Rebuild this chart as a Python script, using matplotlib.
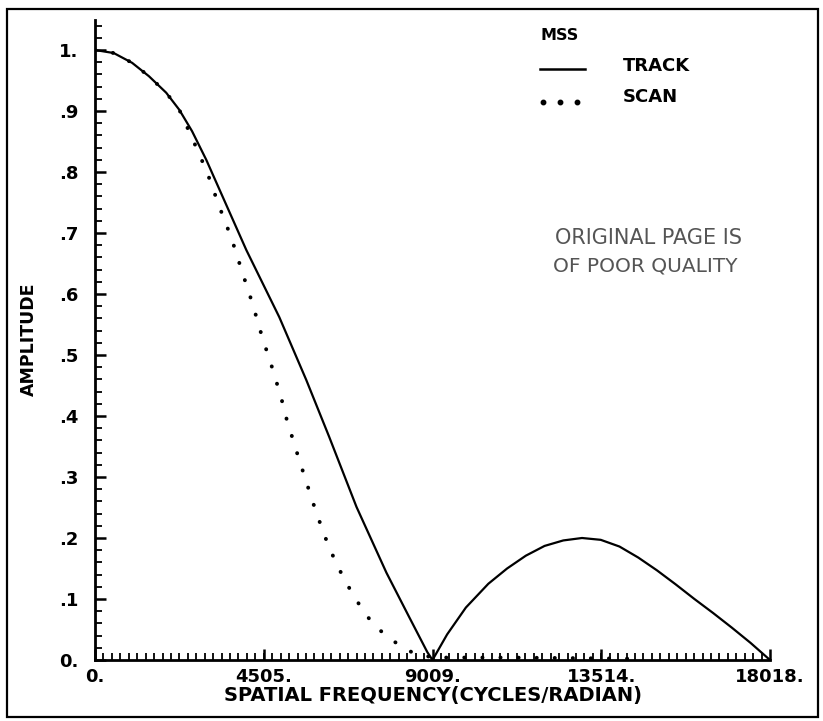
import matplotlib.pyplot as plt
from matplotlib.lines import Line2D
from matplotlib.patches import Rectangle
from matplotlib.ticker import FixedLocator, MultipleLocator

# values (cycles/radian vs amplitude)
track_freq = [0, 500, 990, 1440, 1900, 2250, 2590, 2970, 4040, 4920, 5640,
              6250, 6980, 7780, 8390, 8870, 9009, 9400, 9900, 10500, 11000,
              11500, 12000, 12500, 13000, 13500, 14000, 14500, 15000, 15500,
              16000, 16500, 17000, 17500, 18018]
track_amp = [1.0, 0.995, 0.979, 0.957, 0.930, 0.902, 0.867, 0.820, 0.672,
             0.562, 0.459, 0.366, 0.251, 0.143, 0.070, 0.013, 0.0, 0.042,
             0.086, 0.125, 0.150, 0.171, 0.187, 0.196, 0.200, 0.197, 0.186,
             0.168, 0.147, 0.124, 0.100, 0.077, 0.053, 0.028, 0.0]

scan_freq = [0, 500, 990, 1440, 1900, 2250, 2590, 2990, 3320, 3640, 3930,
             4200, 4460, 4730, 4970, 5100, 5370, 5640, 5910, 6250, 6660, 7190,
             7540, 7990, 8450, 9009, 11000, 13000, 14500]
scan_amp = [1.0, 0.995, 0.979, 0.957, 0.930, 0.902, 0.856, 0.800, 0.743,
            0.692, 0.636, 0.585, 0.530, 0.479, 0.430, 0.398, 0.344, 0.292,
            0.241, 0.184, 0.131, 0.077, 0.052, 0.030, 0.013, 0.004, 0.004,
            0.003, 0.002]

x_ticks = [0, 4505, 9009, 13514, 18018]
x_tick_labels = ["0.", "4505.", "9009.", "13514.", "18018."]
y_ticks = [0, 0.1, 0.2, 0.3, 0.4, 0.5, 0.6, 0.7, 0.8, 0.9, 1.0]
y_tick_labels = ["0.", ".1", ".2", ".3", ".4", ".5", ".6", ".7", ".8", ".9", "1."]

W, H = 823, 721


def fx(px):
    return px / W


def fy(py):
    return 1 - py / H


fig = plt.figure(figsize=(8.23, 7.21), dpi=100)
ax = fig.add_axes([fx(95), fy(660), fx(770) - fx(95), fy(19.5) - fy(660)])

ax.plot(scan_freq, scan_amp, color="black", lw=2.8,
        linestyle=(0, (0.05, 4.6)), dash_capstyle="round")
ax.plot(track_freq, track_amp, color="black", lw=1.6)

ax.set_xlim(0, 18018)
ax.set_ylim(0, 1.05)

for spine in ["top", "right"]:
    ax.spines[spine].set_visible(False)
for spine in ["left", "bottom"]:
    ax.spines[spine].set_linewidth(2)

ax.xaxis.set_major_locator(FixedLocator(x_ticks))
ax.set_xticklabels(x_tick_labels)
ax.xaxis.set_minor_locator(MultipleLocator(18018 / 80))
ax.yaxis.set_major_locator(FixedLocator(y_ticks))
ax.set_yticklabels(y_tick_labels)
ax.yaxis.set_minor_locator(MultipleLocator(0.02))

ax.tick_params(which="major", direction="in", length=8, width=1.8,
               labelsize=13)
ax.tick_params(which="minor", direction="in", length=5, width=1.3)
ax.tick_params(axis="x", which="major", pad=6)
ax.tick_params(axis="y", which="major", pad=12)
for lab in ax.get_xticklabels() + ax.get_yticklabels():
    lab.set_fontweight("bold")

ax.set_xlabel("SPATIAL FREQUENCY(CYCLES/RADIAN)", fontsize=14,
              fontweight="bold")
ax.xaxis.set_label_coords(0.5, -0.041)
ax.set_ylabel("AMPLITUDE", fontsize=12.5, fontweight="bold")
ax.yaxis.set_label_coords(-0.084, 0.5)

# legend drawn by hand, like the plotter original
fig.text(fx(540), fy(35), "MSS", fontsize=11.5, fontweight="bold",
         ha="left", va="center")
fig.add_artist(Line2D([fx(540), fx(585)], [fy(69), fy(69)],
                      color="black", lw=1.8, transform=fig.transFigure))
fig.text(fx(623), fy(66), "TRACK", fontsize=13, fontweight="bold",
         ha="left", va="center")
fig.add_artist(Line2D([fx(543), fx(560), fx(577)], [fy(102)] * 3,
                      color="black", lw=0, marker="o", markersize=3.2,
                      transform=fig.transFigure))
fig.text(fx(623), fy(97), "SCAN", fontsize=13, fontweight="bold",
         ha="left", va="center")

# scanned stamp
fig.text(fx(555), fy(238), "ORIGINAL PAGE IS", fontsize=15, color="#555555",
         ha="left", va="center")
fig.text(fx(553), fy(266), "OF POOR QUALITY", fontsize=14.5, color="#555555",
         ha="left", va="center")

# outer frame
fig.add_artist(Rectangle((fx(7), fy(717)), fx(818) - fx(7), fy(9) - fy(717),
                         transform=fig.transFigure, fill=False,
                         ec="black", lw=1.6))

fig.savefig("out.png", dpi=100)
